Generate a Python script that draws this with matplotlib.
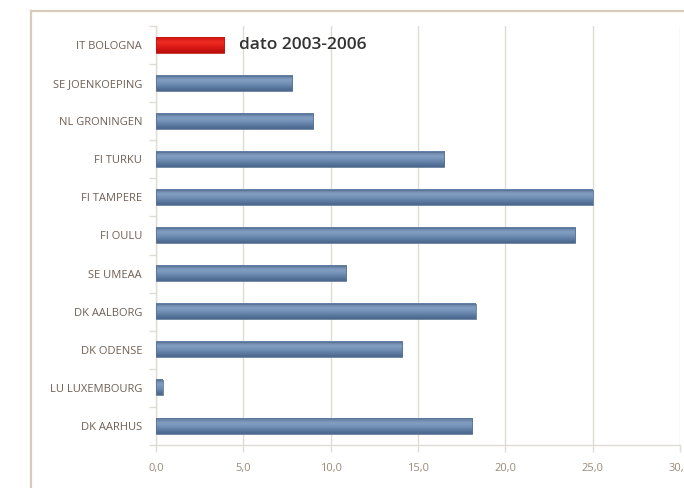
import numpy as np
import matplotlib
matplotlib.use("Agg")
import matplotlib.pyplot as plt
from matplotlib.patches import Rectangle
from matplotlib.ticker import FuncFormatter, FixedLocator
from matplotlib.lines import Line2D

# Data (top to bottom as shown)
cities = ["IT BOLOGNA", "SE JOENKOEPING", "NL GRONINGEN", "FI TURKU", "FI TAMPERE",
          "FI OULU", "SE UMEAA", "DK AALBORG", "DK ODENSE", "LU LUXEMBOURG", "DK AARHUS"]
values = [3.9, 7.8, 9.0, 16.5, 25.0, 24.0, 10.9, 18.3, 14.1, 0.4, 18.1]
highlight = "IT BOLOGNA"
note_text = "dato 2003-2006"
x_ticks = [0, 5, 10, 15, 20, 25, 30]

label_color = "#6e5f54"
tick_color = "#9a8a78"
grid_color = "#e0dcd5"
frame_color = "#d6ccbc"

fig = plt.figure(figsize=(6.84, 4.88), dpi=100)
fig.patch.set_facecolor("white")

# outer chart frame (top and left edges visible)
fig.add_artist(Line2D([31/684, 31/684], [0, 1 - 11/488], transform=fig.transFigure,
                      color=frame_color, lw=1.6))
fig.add_artist(Line2D([31/684, 1], [1 - 11/488, 1 - 11/488], transform=fig.transFigure,
                      color=frame_color, lw=1.6))

ax = fig.add_axes([156/684, 1 - 445/488, (680 - 156)/684, (445 - 26)/488])
n = len(cities)
ypos = np.arange(n)
bar_h = 0.40

# bars with a vertical shading gradient
blue_grad = np.array([[0.38, 0.49, 0.64], [0.54, 0.65, 0.78], [0.45, 0.57, 0.72],
                      [0.39, 0.51, 0.66], [0.30, 0.41, 0.56]])
red_grad = np.array([[0.82, 0.08, 0.06], [0.95, 0.20, 0.15], [0.90, 0.12, 0.10],
                     [0.84, 0.09, 0.07], [0.74, 0.06, 0.05]])
for y, v, c in zip(ypos, values, cities):
    grad = red_grad if c == highlight else blue_grad
    img = np.repeat(grad[:, None, :], 2, axis=1)
    ax.imshow(img, extent=(0, v, y + bar_h / 2, y - bar_h / 2), aspect="auto",
              interpolation="bicubic", zorder=3)
    ax.add_patch(Rectangle((0, y - bar_h / 2), v, bar_h, fill=False,
                           edgecolor=(0.36, 0.46, 0.59) if c != highlight else (0.75, 0.1, 0.08),
                           lw=0.6, zorder=4))

ax.set_xlim(0, 30)
ax.set_ylim(n - 0.5, -0.5)

# note beside the highlighted bar
hi = cities.index(highlight)
ax.annotate(note_text, xy=(values[hi], hi), xytext=(11, 0), textcoords="offset points",
            va="center", ha="left", fontsize=12.5, color="#333333",
            family="Open Sans", fontweight="semibold")

# grid and axes styling
ax.xaxis.set_major_locator(FixedLocator(x_ticks))
ax.grid(axis="x", color=grid_color, lw=1.0, zorder=0)
ax.set_axisbelow(True)
for s in ["top", "right"]:
    ax.spines[s].set_visible(False)
for s in ["left", "bottom"]:
    ax.spines[s].set_color(grid_color)
    ax.spines[s].set_linewidth(1.0)

ax.xaxis.set_major_formatter(FuncFormatter(lambda v, p: f"{v:.1f}".replace(".", ",")))
ax.tick_params(axis="x", length=5, width=1.0, color=grid_color, labelsize=8,
               labelcolor=tick_color, pad=8)

ax.set_yticks(ypos)
ax.set_yticklabels(cities)
ax.set_yticks(np.arange(-0.5, n, 1.0), minor=True)
ax.tick_params(axis="y", which="major", length=0, labelsize=8, labelcolor=label_color, pad=10)
ax.tick_params(axis="y", which="minor", length=5, width=1.0, color=grid_color)

for lab in ax.get_xticklabels() + ax.get_yticklabels():
    lab.set_family("Open Sans")

fig.savefig("out.png", dpi=100, facecolor="white")
